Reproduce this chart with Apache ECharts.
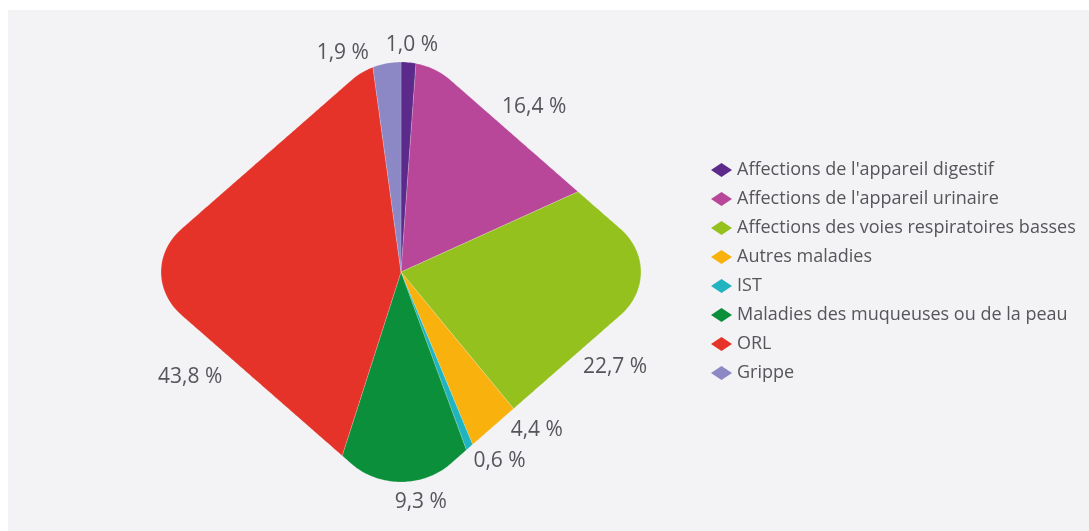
<!DOCTYPE html>
<html><head><meta charset="utf-8">
<script src="https://cdn.jsdelivr.net/npm/echarts@6/dist/echarts.min.js"></script>
<style>html,body{margin:0;padding:0;background:#ffffff}#c{width:1089px;height:531px}</style>
</head><body><div id="c"></div>
<script>
// ---- data ----
const categories = [
  "Affections de l'appareil digestif",
  "Affections de l'appareil urinaire",
  "Affections des voies respiratoires basses",
  "Autres maladies",
  "IST",
  "Maladies des muqueuses ou de la peau",
  "ORL",
  "Grippe"
];
const values = [1.0, 16.4, 22.7, 4.4, 0.6, 9.3, 43.8, 1.9];
const colors = ['#5c2a8a', '#b8479a', '#95c11f', '#f9b20d', '#1fb4c0', '#0b8f3a', '#e5332a', '#8c87c5'];

// ---- layout (shape of the rounded diamond, label anchors in shape-relative polar coords) ----
const SHAPE = {cx: 401, cy: 272, sx: 240, sy: 210, edge: 1.12, corner: 0.29};
const LABEL_POS = [[2.4,1.08],[35.3,0.96],[116.9,1.0],[143,0.94],[155.5,0.99],[175.7,1.1],[240.4,1.01],[346.9,1.07]];

function fmt(v){ return v.toFixed(1).replace('.', ',') + ' %'; }
function distToInner(u, v){
  u = Math.abs(u); v = Math.abs(v);
  const k = SHAPE.edge - SHAPE.corner * Math.SQRT2;
  if (u + v <= k) return 0;
  if (u - v > k) return Math.hypot(u - k, v);
  if (v - u > k) return Math.hypot(u, v - k);
  return (u + v - k) / Math.SQRT2;
}
function boundary(th){
  const su = Math.sin(th), cu = Math.cos(th);
  let lo = 0, hi = 2;
  for (let i = 0; i < 40; i++){ const m = (lo + hi) / 2; if (distToInner(m*su, m*cu) < SHAPE.corner) lo = m; else hi = m; }
  return lo;
}
function toPx(th, r){ return [SHAPE.cx + r*Math.sin(th)*SHAPE.sx, SHAPE.cy - r*Math.cos(th)*SHAPE.sy]; }

const total = values.reduce((a,b)=>a+b, 0);

const chart = echarts.init(document.getElementById('c'), null, {renderer: 'canvas'});
chart.setOption({
  backgroundColor: '#ffffff',
  animation: false,
  graphic: [{type: 'rect', left: 8, top: 10, z: -10, silent: true, shape: {width: 1081, height: 521}, style: {fill: '#f3f2f5'}}],
  legend: {
    orient: 'vertical', left: 706, top: 156,
    icon: 'diamond', itemWidth: 21, itemHeight: 14, itemGap: 11,
    data: categories,
    textStyle: {fontFamily: 'Open Sans', fontSize: 18, color: '#55555a', lineHeight: 17}
  },
  series: [
    {
      type: 'pie', radius: [0, 0], center: [SHAPE.cx, SHAPE.cy], silent: true,
      label: {show: false}, labelLine: {show: false},
      data: categories.map((n, i) => ({name: n, value: values[i], itemStyle: {color: colors[i]}}))
    },
    {
      type: 'custom', coordinateSystem: 'none', silent: true,
      data: values,
      renderItem: function(params, api){
        const i = params.dataIndex;
        let before = 0; for (let j = 0; j < i; j++) before += values[j];
        const a0 = before / total * 2 * Math.PI;
        const a1 = (before + api.value(0)) / total * 2 * Math.PI;
        const pts = [[SHAPE.cx, SHAPE.cy]];
        const n = Math.max(2, Math.ceil((a1 - a0) / (Math.PI / 360)));
        for (let k = 0; k <= n; k++){ const th = a0 + (a1 - a0) * k / n; pts.push(toPx(th, boundary(th))); }
        const lp = LABEL_POS[i];
        const l = toPx(lp[0] * Math.PI / 180, lp[1]);
        return {type: 'group', children: [
          {type: 'polygon', shape: {points: pts}, style: {fill: colors[i], stroke: 'rgba(255,255,255,0.3)', lineWidth: 0.6}},
          {type: 'text', x: l[0], y: l[1], style: {text: fmt(api.value(0)), fill: '#55565c', fontSize: 21, fontFamily: 'Open Sans', align: 'center', verticalAlign: 'middle'}}
        ]};
      }
    }
  ]
});
</script></body></html>
